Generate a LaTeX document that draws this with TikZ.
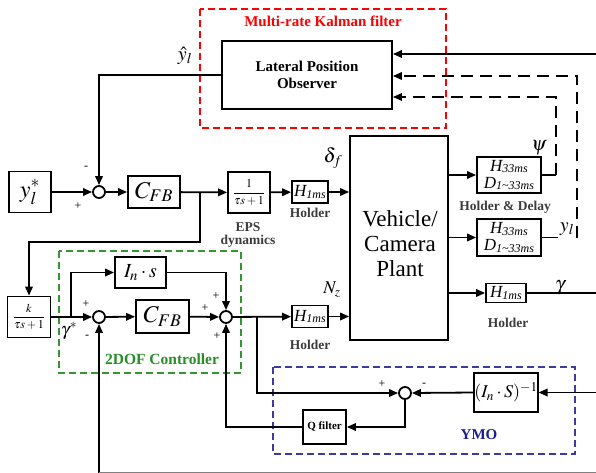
\documentclass[tikz,border=0pt]{standalone}
\usepackage{mathptmx}
\usepackage{fontspec}
\setmainfont{Liberation Serif}
\usetikzlibrary{arrows.meta}
\definecolor{kred}{RGB}{255,0,0}
\definecolor{kgreen}{RGB}{40,140,40}
\definecolor{kgreenbox}{RGB}{50,150,50}
\definecolor{knavy}{RGB}{30,30,140}
\definecolor{knavybox}{RGB}{60,60,160}
\definecolor{klbl}{RGB}{60,60,60}
\newcommand\myfs[1]{\fontsize{#1}{#1}\selectfont}
\newcommand\Hsub[2]{{\myfs{17}\itshape #1}\raisebox{-1.5pt}{\myfs{12}\itshape #2}}
\begin{document}
\begin{tikzpicture}[x=1pt,y=-1pt,
  ln/.style={line width=1.8pt},
  arr/.style={line width=1.8pt,-{Triangle[length=9pt,width=7.5pt]}},
  dsh/.style={line width=1.8pt,dash pattern=on 12pt off 7pt},
  blk/.style={draw,fill=white,line width=1.8pt,inner sep=0pt,align=center},
  sumc/.style={draw,fill=white,circle,line width=1.8pt,minimum size=12pt,inner sep=0pt},
  sgn/.style={inner sep=0pt,font=\myfs{12}},
  lbl/.style={inner sep=0pt,font=\myfs{13.5}\bfseries,text=klbl,align=center}]
\useasboundingbox (0,0) rectangle (596,473);
% dashed groups
\draw[kred,line width=1.2pt,dash pattern=on 7pt off 4pt] (200,9) rectangle (446,128);
\draw[kgreenbox,line width=1.2pt,dash pattern=on 7pt off 4pt] (59,251) rectangle (241,373);
\draw[knavybox,line width=1.2pt,dash pattern=on 7pt off 4pt] (273,367) rectangle (575,454);
\node[inner sep=0pt,text=kred,font=\myfs{15}\bfseries] (tkal) at (323,21) {Multi-rate Kalman filter};
\node[inner sep=0pt,text=kgreen,font=\myfs{15.5}\bfseries] (tdof) at (162,359) {2DOF Controller};
\node[inner sep=0pt,text=knavy,font=\myfs{15}\bfseries] (tymo) at (479,435) {YMO};
% blocks
\node[blk,minimum width=170pt,minimum height=68pt,font=\fontsize{15}{17}\selectfont\bfseries] (obs) at (307,75) {Lateral Position\\Observer};
\node[blk,minimum width=42pt,minimum height=41pt] (ystar) at (30,192) {\myfs{24}$y_l^{\raisebox{1pt}{$\scriptstyle *$}}$};
\node[sumc] (sum1) at (99,192) {};
\node[blk,minimum width=52pt,minimum height=32pt] (cfb1) at (154,192) {\myfs{24}$C_{FB}$};
\node[blk,minimum width=42pt,minimum height=41pt] (eps) at (249,192.5) {\myfs{12}$\displaystyle\frac{1}{\tau s+1}$};
\node[blk,minimum width=36pt,minimum height=22pt] (h1) at (310,192) {\Hsub{H}{1ms}};
\node[blk,minimum width=98pt,minimum height=204pt] (plant) at (399,238) {};
\node[inner sep=0pt,align=center,font=\fontsize{23}{25}\selectfont] (ptxt) at (400,244) {Vehicle/\\Camera\\Plant};
\node[blk,minimum width=64pt,minimum height=36pt,font=\fontsize{17}{17}\selectfont] (hpsi) at (509,175) {\Hsub{H}{33ms}\\\Hsub{D}{1\textasciitilde 33ms}};
\node[blk,minimum width=64pt,minimum height=37pt,font=\fontsize{17}{17}\selectfont] (hyl) at (509,237.5) {\Hsub{H}{33ms}\\\Hsub{D}{1\textasciitilde 33ms}};
\node[blk,minimum width=40pt,minimum height=19pt] (hgam) at (506,293) {\Hsub{H}{1ms}};
\node[blk,minimum width=43pt,minimum height=41pt] (kblk) at (29,317) {\myfs{12}$\displaystyle\frac{k}{\tau s+1}$};
\node[sumc] (sum2) at (99,317) {};
\node[blk,minimum width=51pt,minimum height=31pt] (ins) at (140.5,272.5) {\myfs{20}$I_n\cdot s$};
\node[blk,minimum width=53pt,minimum height=33pt] (cfb2) at (162.5,316.5) {\myfs{24}$C_{FB}$};
\node[sumc] (sum3) at (226,317) {};
\node[blk,minimum width=36pt,minimum height=22pt] (h2) at (310,316.5) {\Hsub{H}{1ms}};
\node[sumc] (sum4) at (405,393) {};
\node[blk,minimum width=58pt,minimum height=39pt] (inv) at (506,392.5) {\myfs{18}$(I_n\cdot S)^{-1}$};
\node[blk,minimum width=43pt,minimum height=34pt,font=\myfs{11}\bfseries] (qf) at (324.5,427) {Q filter};
% labels
\node[inner sep=0pt] (lyhat) at (185,56) {\myfs{20}$\hat{y}_l$};
\node[inner sep=0pt] (ldel) at (333,158) {\myfs{20}$\delta_f$};
\node[inner sep=0pt] (lnz) at (332,290) {\myfs{18}$N_z$};
\node[inner sep=0pt] (lpsi) at (539,148) {\myfs{20}$\psi$};
\node[inner sep=0pt] (lyl) at (567,229) {\myfs{20}$y_l$};
\node[inner sep=0pt] (lgam) at (560,288) {\myfs{20}$\gamma$};
\node[inner sep=0pt] (lgs) at (69,331) {\myfs{18}$\gamma^{*}$};
\node[lbl] (leps) at (248,235) {EPS\\dynamics};
\node[lbl] (lh1) at (310,213) {Holder};
\node[lbl] (lh2) at (310,345) {Holder};
\node[lbl] (lhd) at (505,207) {Holder \& Delay};
\node[lbl] (lh3) at (508,323) {Holder};
% signs
\node[sgn] at (86,168) {-};
\node[sgn] at (78,206) {+};
\node[sgn] at (86,304) {+};
\node[sgn] at (87,337) {-};
\node[sgn] at (216,296) {+};
\node[sgn] at (205,308) {+};
\node[sgn] at (217,336) {+};
\node[sgn] at (382,384) {+};
\node[sgn] at (424,385) {-};
% coordinates
\coordinate (inTop) at (596,54);
\coordinate (inYmo) at (596,392.5);
\coordinate (outGam) at (596,293);
\coordinate (b1) at (200,192);
\coordinate (b1d) at (200,242);
\coordinate (b2) at (71,317);
\coordinate (b3) at (257,317);
\coordinate (psiR) at (556,175);
\coordinate (psiT) at (556,97);
\coordinate (ylR) at (577,237.5);
\coordinate (ylT) at (577,76);
\coordinate (bot) at (99,473);
\coordinate (botR) at (596,472);
% connectors
\draw[arr] (inTop) -- (inTop -| obs.east);
\draw[arr] (obs.west) -| (sum1.north);
\draw[arr] (ystar) -- (sum1);
\draw[arr] (sum1) -- (cfb1);
\draw[arr] (cfb1) -- (eps);
\draw[arr] (b1) -- (b1d) -| (kblk.north);
\draw[arr] (eps) -- (h1);
\draw[arr] (h1.east) -- (h1.east -| plant.west);
\draw[arr] (hpsi.west -| plant.east) -- (hpsi.west);
\draw[arr] (hyl.west -| plant.east) -- (hyl.west);
\draw[arr] (hgam.west -| plant.east) -- (hgam.west);
\draw[ln] (hgam.east) -- (outGam);
\draw[ln] (hpsi.east) -- (psiR);
\draw[dsh,-{Triangle[length=9pt,width=7.5pt]}] (psiR) -- (psiT) -- (psiT -| obs.east);
\draw[ln] (hyl.east) -- ++(16,0);
\draw[dsh,-{Triangle[length=9pt,width=7.5pt]}] (ylR) -- (ylT) -- (ylT -| obs.east);
\draw[arr] (kblk) -- (sum2);
\draw[arr] (b2) |- (ins.west);
\draw[arr] (sum2) -- (cfb2);
\draw[arr] (cfb2) -- (sum3);
\draw[arr] (ins.east) -| (sum3.north);
\draw[arr] (sum3) -- (h2);
\draw[arr] (h2.east) -- (h2.east -| plant.west);
\draw[arr] (b3) |- (sum4.west);
\draw[arr] (inYmo) -- (inv.east);
\draw[arr] (inv.west) -- (sum4.east);
\draw[arr] (sum4.south) |- (qf.east);
\draw[arr] (qf.west) -| (sum3.south);
\draw[arr] (bot) -- (sum2.south);
\draw[gray,line width=1pt] (bot |- botR) -- (botR);
\end{tikzpicture}
\end{document}
